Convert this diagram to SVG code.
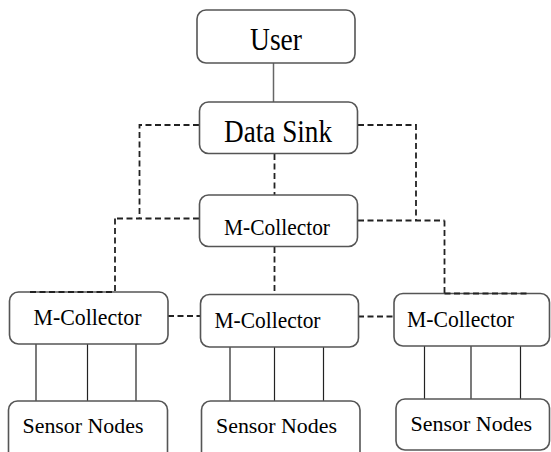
<svg xmlns="http://www.w3.org/2000/svg" width="551" height="452" viewBox="0 0 551 452">
<style>
.box{fill:#fff;stroke:#555;stroke-width:1.6}
.d{fill:none;stroke:#222;stroke-width:1.8;stroke-dasharray:6,3.5}
.s{fill:none;stroke:#222;stroke-width:1.2}
.sg{fill:none;stroke:#666;stroke-width:1.5}
</style>
<rect width="551" height="452" fill="#fff"/>
<g id="connectors">
<line class="sg" x1="273.5" y1="63" x2="273.5" y2="102"/>
<polyline class="d" points="199,125 139.5,125 139.5,218.5"/>
<line class="d" x1="199" y1="218.5" x2="115" y2="218.5"/>
<line class="d" x1="115" y1="218.5" x2="115" y2="292"/>
<polyline class="d" points="358,125 416,125 416,220.5"/>
<line class="d" x1="358" y1="220.5" x2="444.5" y2="220.5"/>
<line class="d" x1="444.5" y1="220.5" x2="444.5" y2="293.5"/>
<line class="d" x1="274.5" y1="154" x2="274.5" y2="195"/>
<line class="d" x1="274.5" y1="247" x2="274.5" y2="294.5"/>
<line class="d" x1="168" y1="316" x2="200.5" y2="316"/>
<line class="d" x1="358" y1="316.5" x2="394" y2="316.5"/>
<line class="s" x1="36" y1="344" x2="36" y2="401"/>
<line class="s" x1="87.5" y1="344" x2="87.5" y2="401"/>
<line class="s" x1="136" y1="344" x2="136" y2="401"/>
<line class="s" x1="230" y1="347" x2="230" y2="401"/>
<line class="s" x1="274.5" y1="347" x2="274.5" y2="401"/>
<line class="s" x1="323.5" y1="347" x2="323.5" y2="401"/>
<line class="s" x1="424.5" y1="346" x2="424.5" y2="399"/>
<line class="s" x1="471" y1="346" x2="471" y2="399"/>
<line class="s" x1="520.5" y1="346" x2="520.5" y2="399"/>
</g>
<g font-family="Liberation Serif, Times New Roman, Times, serif" fill="#000">
<g id="user">
<rect class="box" x="197" y="10" width="158" height="53" rx="9"/>
<text x="250" y="50" font-size="31" textLength="52" lengthAdjust="spacingAndGlyphs">User</text>
</g>
<g id="datasink">
<rect class="box" x="199.5" y="102" width="158" height="51.5" rx="9"/>
<text x="224" y="141.5" font-size="31" textLength="108" lengthAdjust="spacingAndGlyphs">Data Sink</text>
</g>
<g id="mc-top">
<rect class="box" x="199.5" y="195" width="158" height="51.5" rx="9"/>
<text x="224" y="234.5" font-size="24" textLength="106" lengthAdjust="spacingAndGlyphs">M-Collector</text>
</g>
<g id="mc-left">
<rect class="box" x="9.5" y="292" width="158.5" height="52" rx="9"/>
<text x="33.5" y="325" font-size="23" textLength="108" lengthAdjust="spacingAndGlyphs">M-Collector</text>
</g>
<g id="mc-mid">
<rect class="box" x="200.5" y="294.5" width="158" height="52.5" rx="9"/>
<text x="214.5" y="327.5" font-size="23" textLength="106" lengthAdjust="spacingAndGlyphs">M-Collector</text>
</g>
<g id="mc-right">
<rect class="box" x="394" y="293.5" width="155.5" height="52.5" rx="9"/>
<text x="407" y="327" font-size="23" textLength="107" lengthAdjust="spacingAndGlyphs">M-Collector</text>
</g>
<line class="d" x1="30" y1="292" x2="115" y2="292"/>
<line class="d" x1="444.5" y1="293.5" x2="528" y2="293.5"/>
<g id="sn-left">
<rect class="box" x="8.5" y="401" width="159" height="60" rx="9"/>
<text x="22.5" y="432.5" font-size="22" textLength="121" lengthAdjust="spacingAndGlyphs">Sensor Nodes</text>
</g>
<g id="sn-mid">
<rect class="box" x="201.5" y="401" width="158.5" height="60" rx="9"/>
<text x="216" y="432.5" font-size="22" textLength="121" lengthAdjust="spacingAndGlyphs">Sensor Nodes</text>
</g>
<g id="sn-right">
<rect class="box" x="396" y="399" width="153.5" height="51" rx="9"/>
<text x="410.5" y="430.5" font-size="22" textLength="121.5" lengthAdjust="spacingAndGlyphs">Sensor Nodes</text>
</g>
</g>
</svg>
